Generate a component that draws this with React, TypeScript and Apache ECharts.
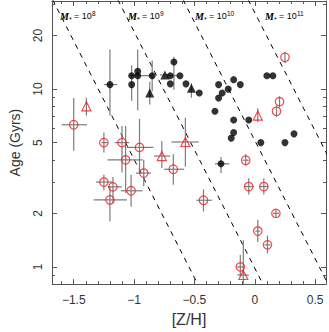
import React, { useEffect, useRef } from 'react';
import * as echarts from 'echarts';

// Axis ranges and ticks
const xRange = [-1.68, 0.59];
const yRange = [0.8, 31.3];
const xMajorTicks = [-1.5, -1, -0.5, 0, 0.5];
const xMinorTicks = [-1.6, -1.4, -1.3, -1.2, -1.1, -0.9, -0.8, -0.7, -0.6, -0.4, -0.3, -0.2, -0.1, 0.1, 0.2, 0.3, 0.4];
const yMajorTicks = [1, 2, 5, 10, 20];
const yMinorTicks = [0.9, 3, 4, 6, 7, 8, 9, 30];

// [Z/H, Age, Zlo, Zhi, AgeLo, AgeHi]
const blackCircles: (number | null)[][] = [
  [-1.2, 10.6, -1.25, -1.14, 7.1, 16.7],
  [-1.02, 11.9, null, null, null, null],
  [-1.02, 10.6, null, null, 8.6, 13.6],
  [-0.97, 12.6, null, null, 7.6, 16.7],
  [-0.97, 11.9, -1.04, -0.85, null, null],
  [-0.85, 11.9, null, null, 9.7, 14.5],
  [-0.7, 11.9, -0.73, -0.64, null, null],
  [-0.7, 10.7, null, null, null, null],
  [-0.67, 14.2, null, null, 9.9, 15.2],
  [-0.62, 11.9, null, null, null, null],
  [-0.57, 10.7, null, null, null, null],
  [-0.46, 9.5, null, null, null, null],
  [-0.28, 3.8, -0.33, -0.21, 3.37, 4.15],
  [-0.3, 10.6, null, null, null, null],
  [-0.175, 11.3, null, null, null, null],
  [-0.12, 10.6, null, null, null, null],
  [-0.22, 10.0, null, null, null, null],
  [-0.27, 9.5, null, null, null, null],
  [-0.3, 8.9, null, null, null, null],
  [-0.33, 7.5, null, null, null, null],
  [-0.175, 6.7, null, null, null, null],
  [-0.05, 6.7, null, null, null, null],
  [-0.175, 5.7, null, null, null, null],
  [-0.195, 5.3, null, null, null, null],
  [0.05, 5.0, null, null, null, null],
  [0.25, 5.0, null, null, null, null],
  [0.325, 5.6, null, null, null, null],
  [0.1, 11.9, null, null, null, null],
  [0.15, 11.9, null, null, null, null],
];

const blackTriangles: (number | null)[][] = [
  [-0.87, 9.5, null, null, 8.2, 11.0],
  [-0.745, 12.0, -0.785, -0.68, null, null],
  [-0.525, 10.1, null, null, 8.95, 10.8],
];

const redCircles: (number | null)[][] = [
  [-1.5, 6.3, -1.6, -1.39, 4.5, 8.9],
  [-1.25, 5.0, -1.27, -1.22, 4.4, 5.7],
  [-1.1, 5.0, -1.16, -1.04, 3.4, 6.2],
  [-0.955, 4.7, -1.06, -0.84, 3.4, 6.8],
  [-1.07, 4.0, -1.22, -0.93, 2.6, 6.2],
  [-0.92, 3.37, -0.985, -0.86, 2.85, 4.0],
  [-0.675, 3.54, -0.75, -0.585, 2.9, 4.3],
  [-1.25, 3.0, -1.315, -1.18, 2.7, 3.3],
  [-1.175, 2.82, -1.22, -1.1, 2.27, 3.2],
  [-1.2, 2.38, -1.335, -1.06, 1.8, 2.85],
  [-1.025, 2.68, -1.11, -0.93, 2.18, 3.3],
  [-0.425, 2.37, -0.485, -0.355, 2.05, 2.73],
  [-0.075, 3.98, -0.1, -0.05, 3.7, 4.3],
  [-0.05, 2.83, -0.09, -0.01, 2.55, 3.15],
  [0.075, 2.83, 0.04, 0.11, 2.55, 3.15],
  [0.175, 2.0, 0.15, 0.2, 1.9, 2.1],
  [0.025, 1.59, 0.005, 0.045, 1.38, 1.84],
  [0.105, 1.33, 0.08, 0.13, 1.19, 1.5],
  [-0.12, 1.0, -0.15, -0.09, 0.89, 1.17],
  [0.25, 15.1, null, null, 14.0, 16.2],
  [0.205, 8.5, null, null, 7.9, 9.1],
  [0.18, 7.5, null, null, 7.0, 8.1],
];

const redTriangles: (number | null)[][] = [
  [-1.395, 8.0, null, null, 7.1, 8.95],
  [-0.77, 4.2, -0.835, -0.7, 3.6, 5.1],
  [-0.575, 5.04, -0.69, -0.465, 3.66, 6.9],
  [0.025, 7.1, null, null, 6.5, 7.8],
  [-0.095, 0.9, -0.145, -0.05, 0.8, 1.41],
];

// Constant stellar-mass lines: two endpoints each [Z/H, Age]
const massLineLabels = ['8', '9', '10', '11'];
const massLines: number[][][] = [
  [[-1.75, 40.1], [-0.4, 0.64]],
  [[-1.21, 40.1], [0.14, 0.64]],
  [[-0.67, 40.1], [0.68, 0.64]],
  [[-0.13, 40.1], [1.22, 0.64]],
];
const massLabelPos = [[60, 16], [128, 16], [195, 16], [265, 16]];

const AXIS = '#555';
const TEXT = '#333';
const RED = '#f01c1c';
const EB = '#7c7c7c';
const FONT = 'Liberation Sans';

const fmtX = (v: number) => (v === 0 ? '0' : String(v).replace('-', '\u2212'));

const xAxisBase = (position: string, ticks: number[], len: number, main: boolean, showLabel: boolean) => ({
  type: 'value',
  position,
  min: xRange[0],
  max: xRange[1],
  axisLine: { show: main, onZero: false, lineStyle: { color: AXIS, width: 1 } },
  axisTick: { show: true, inside: true, length: len, customValues: ticks, lineStyle: { color: AXIS, width: 1 } },
  axisLabel: showLabel
    ? { show: true, customValues: ticks, formatter: fmtX, fontSize: 12, color: TEXT, fontFamily: FONT, margin: 10 }
    : { show: false },
  splitLine: { show: false },
});

const yAxisBase = (position: string, ticks: number[], len: number, main: boolean, showLabel: boolean) => ({
  type: 'log',
  logBase: 10,
  position,
  min: yRange[0],
  max: yRange[1],
  axisLine: { show: main, onZero: false, lineStyle: { color: AXIS, width: 1 } },
  axisTick: { show: true, inside: true, length: len, customValues: ticks, lineStyle: { color: AXIS, width: 1 } },
  axisLabel: showLabel
    ? { show: true, customValues: ticks, rotate: 90, fontSize: 12, color: TEXT, fontFamily: FONT, margin: 8 }
    : { show: false },
  splitLine: { show: false },
  minorTick: { show: false },
  minorSplitLine: { show: false },
});

const toPts = (rows: (number | null)[][]) => rows.map((r) => [r[0], r[1]]);

export default function App() {
  const ref = useRef<HTMLDivElement>(null);
  useEffect(() => {
    if (!ref.current) return;
    const chart = echarts.init(ref.current, undefined, { renderer: 'svg' });
    const allErr = [...blackCircles, ...blackTriangles, ...redCircles, ...redTriangles].map((r) => [
      r[0], r[1],
      r[2] == null ? r[0] : r[2], r[3] == null ? r[0] : r[3],
      r[4] == null ? r[1] : r[4], r[5] == null ? r[1] : r[5],
    ]);

    const xAxes: any[] = [
      { ...xAxisBase('bottom', xMajorTicks, 5, true, true), name: '[Z/H]', nameLocation: 'middle', nameGap: 22,
        nameTextStyle: { fontSize: 16, color: TEXT, fontFamily: FONT } },
      xAxisBase('bottom', xMinorTicks, 3, false, false),
      xAxisBase('top', xMajorTicks, 5, true, false),
      xAxisBase('top', xMinorTicks, 3, false, false),
    ];
    const yAxes: any[] = [
      { ...yAxisBase('left', yMajorTicks, 5, true, true), name: 'Age (Gyrs)', nameLocation: 'middle', nameGap: 30,
        nameRotate: 90, nameTextStyle: { fontSize: 14, color: TEXT, fontFamily: FONT } },
      yAxisBase('left', yMinorTicks, 3, false, false),
      yAxisBase('right', yMajorTicks, 5, true, false),
      yAxisBase('right', yMinorTicks, 3, false, false),
    ];

    const series: any[] = [];
    massLines.forEach((pts) => {
      series.push({
        type: 'line', data: pts, symbol: 'none', silent: true, clip: true, z: 1,
        lineStyle: { color: '#000', width: 1, type: [5, 5] },
      });
    });
    series.push({
      type: 'custom',
      data: allErr,
      encode: { x: 0, y: 1 },
      clip: true,
      z: 2,
      silent: true,
      renderItem: (params: any, api: any) => {
        const a = api.value(1);
        const z = api.value(0);
        const zl = api.value(2), zh = api.value(3), al = api.value(4), ah = api.value(5);
        const children: any[] = [];
        if (zh > zl) {
          const p1 = api.coord([zl, a]);
          const p2 = api.coord([zh, a]);
          children.push({ type: 'line', shape: { x1: p1[0], y1: p1[1], x2: p2[0], y2: p2[1] }, style: { stroke: EB, lineWidth: 1.2 } });
        }
        if (ah > al) {
          const p1 = api.coord([z, al]);
          const p2 = api.coord([z, ah]);
          children.push({ type: 'line', shape: { x1: p1[0], y1: p1[1], x2: p2[0], y2: p2[1] }, style: { stroke: EB, lineWidth: 1.2 } });
        }
        return { type: 'group', children };
      },
    });
    series.push({
      type: 'scatter', data: toPts(blackCircles), symbol: 'circle', symbolSize: 7, z: 3,
      itemStyle: { color: '#000' },
    });
    series.push({
      type: 'scatter', data: toPts(blackTriangles), symbol: 'triangle', symbolSize: 9, z: 3,
      itemStyle: { color: '#000' },
    });
    series.push({
      type: 'scatter', data: toPts(redCircles), symbol: 'circle', symbolSize: 8.5, z: 4,
      itemStyle: { color: 'transparent', borderColor: RED, borderWidth: 1.2 },
    });
    series.push({
      type: 'scatter', data: toPts(redTriangles), symbol: 'triangle', symbolSize: 9, z: 4,
      itemStyle: { color: 'transparent', borderColor: RED, borderWidth: 1.2 },
    });

    const graphic = massLineLabels.map((p, i) => ({
      type: 'text',
      x: massLabelPos[i][0],
      y: massLabelPos[i][1],
      z: 10,
      style: {
        text: `{m|M}{s|*}{t| = 10}{p|${p}}`,
        verticalAlign: 'middle',
        align: 'left',
        fill: '#000',
        rich: {
          m: { fontSize: 10, fontWeight: 'bold', fontStyle: 'italic', fontFamily: 'Liberation Serif', fill: '#000', verticalAlign: 'middle' },
          s: { fontSize: 7, fontFamily: FONT, fill: '#000', verticalAlign: 'bottom', lineHeight: 13 },
          t: { fontSize: 9, fontFamily: FONT, fill: '#000', verticalAlign: 'middle' },
          p: { fontSize: 6.5, fontFamily: FONT, fill: '#000', verticalAlign: 'top', lineHeight: 13 },
        },
      },
    }));

    chart.setOption({
      animation: false,
      backgroundColor: '#fff',
      grid: { left: 43, right: 3, top: 1, bottom: 37, containLabel: false },
      xAxis: xAxes,
      yAxis: yAxes,
      series,
      graphic,
    });
    return () => chart.dispose();
  }, []);
  return <div ref={ref} style={{ position: 'fixed', left: 0, top: 0, width: 329, height: 332 }} />;
}
